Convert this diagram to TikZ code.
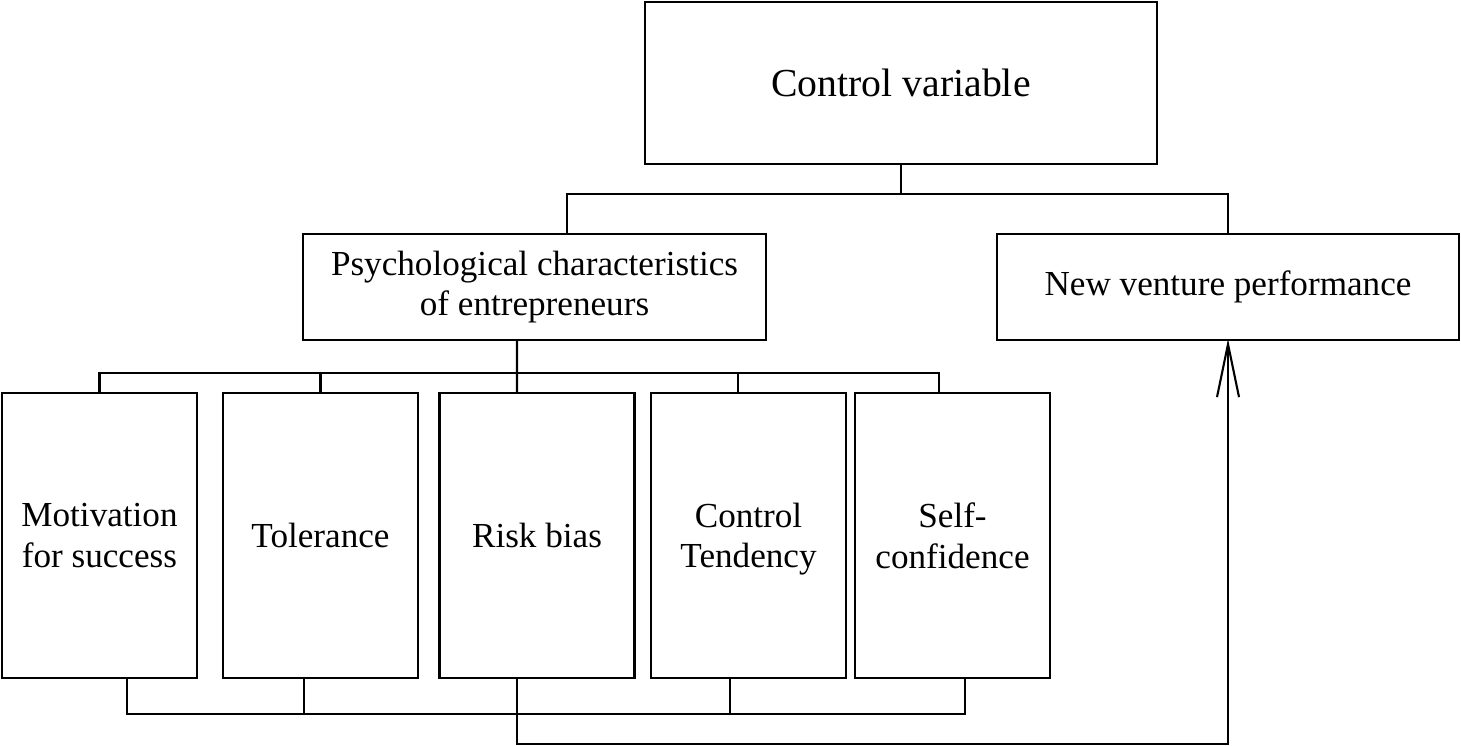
\documentclass[tikz,border=0pt]{standalone}
\usepackage{fontspec}
\setmainfont{Liberation Serif}
\usetikzlibrary{arrows.meta}

\begin{document}
\begin{tikzpicture}[>={Straight Barb[length=5.3mm,width=2.2mm]}, line width=0.6pt,
        box/.style={draw, align=center, inner sep=2pt, font=\fontsize{10}{11.6}\selectfont},
        item/.style={box, minimum width=1.95cm, minimum height=2.85cm}]
    \useasboundingbox (0,0) rectangle (14.61,7.46);
        \node[box, minimum width=5.12cm, minimum height=1.62cm, font=\fontsize{11.3}{13}\selectfont]
                                    (cv)   at (9.01,6.63)    {Control variable};
        \node[box, minimum width=4.63cm, minimum height=1.06cm]
                                    (psy)  at (5.345,4.59)   {Psychological characteristics\\of entrepreneurs};
        \node[box, minimum width=4.62cm, minimum height=1.06cm]
                                    (nvp)  at (12.28,4.59)   {New venture performance};
        \node[item]                 (mot)  at (0.995,2.105)  {Motivation\\for success};
        \node[item]                 (tol)  at (3.205,2.105)  {Tolerance};
        \node[item]                 (risk) at (5.37,2.105)   {Risk bias};
        \node[item]                 (ct)   at (7.485,2.105)  {Control\\Tendenc\smash{y}};
        \node[item]                 (sc)   at (9.525,2.105)  {Self-\\confidence};

        % control variable to both sides
        \draw (cv.south) -- ++(0,-0.29) -| ([xshift=3.25mm]psy.north);
        \draw (cv.south) -- ++(0,-0.29) -| (nvp.north);
        % psychological characteristics to the five items
        \draw ([xshift=-1.75mm]psy.south) -- ++(0,-0.32) -| (mot.north);
        \draw ([xshift=-1.75mm]psy.south) -- ++(0,-0.32) -| (tol.north);
        \draw ([xshift=-1.75mm]psy.south) -- ([xshift=-2mm]risk.north);
        \draw ([xshift=-1.75mm]psy.south) -- ++(0,-0.32) -| ([xshift=-1.05mm]ct.north);
        \draw ([xshift=-1.75mm]psy.south) -- ++(0,-0.32) -| ([xshift=-1.35mm]sc.north);
        % items joined below
        \draw ([xshift=2.75mm]mot.south) -- ++(0,-0.35) -| ([xshift=1.25mm]sc.south);
        \draw ([xshift=-1.65mm]tol.south) -- ++(0,-0.35);
        \draw ([xshift=-1.85mm]ct.south) -- ++(0,-0.35);
        \draw[->, shorten >=-0.6pt] ([xshift=-2mm]risk.south) -- ++(0,-0.65) -| (nvp.south);
    \end{tikzpicture}
\end{document}
